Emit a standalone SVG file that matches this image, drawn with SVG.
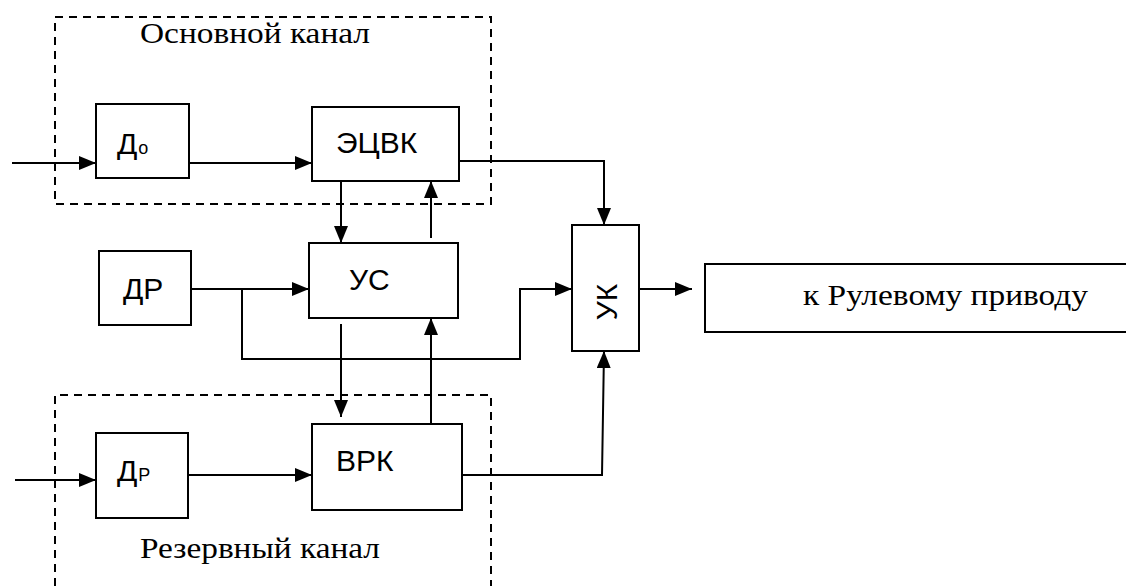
<svg xmlns="http://www.w3.org/2000/svg" width="1126" height="586" viewBox="0 0 1126 586">
<defs>
<marker id="arr" viewBox="0 0 17 14" refX="17" refY="7" markerWidth="17" markerHeight="14" markerUnits="userSpaceOnUse" orient="auto">
<path d="M0,0 L17,7 L0,14 Z" fill="#000"/>
</marker>
</defs>
<style>
.box{fill:#fff;stroke:#000;stroke-width:2}
.dash{fill:none;stroke:#000;stroke-width:2;stroke-dasharray:8 6}
.ln{fill:none;stroke:#000;stroke-width:2}
.a{marker-end:url(#arr)}
.sans{font-family:"Liberation Sans","Open Sans",sans-serif;font-size:30px;fill:#000}
.sub{font-size:18px}
.serif{font-family:"Liberation Serif","Times New Roman",serif;font-size:30px;fill:#000}
</style>
<rect width="1126" height="586" fill="#fff"/>
<g id="main-channel">
<rect class="dash" x="55" y="17" width="436" height="187"/>
<text class="serif" x="140" y="43" textLength="230" lengthAdjust="spacingAndGlyphs">Основной канал</text>
</g>
<g id="reserve-channel">
<path class="dash" d="M55,600 L55,395 L491,395 L491,600"/>
<text class="serif" x="140" y="558" textLength="240" lengthAdjust="spacingAndGlyphs">Резервный канал</text>
</g>
<g id="connectors">
<line class="ln a" x1="12" y1="163" x2="96" y2="163"/>
<line class="ln a" x1="189" y1="163" x2="312" y2="163"/>
<line class="ln a" x1="341" y1="181" x2="341" y2="243"/>
<line class="ln a" x1="431" y1="238" x2="431" y2="181"/>
<polyline class="ln a" points="459,161 604,161 604,225"/>
<line class="ln a" x1="191" y1="289" x2="309" y2="289"/>
<polyline class="ln a" points="242,289 242,359 520,359 520,289 572,289"/>
<line class="ln a" x1="341" y1="324" x2="341" y2="417"/>
<line class="ln a" x1="431" y1="424" x2="431" y2="318"/>
<line class="ln a" x1="15" y1="480" x2="96" y2="480"/>
<line class="ln a" x1="186" y1="475" x2="312" y2="475"/>
<polyline class="ln a" points="459,475 602,475 604,351"/>
<line class="ln a" x1="639" y1="289" x2="692" y2="289"/>
</g>
<g id="Do">
<rect class="box" x="96" y="104" width="93" height="74"/>
<text class="sans" x="117" y="154">Д<tspan class="sub" dx="1">о</tspan></text>
</g>
<g id="EZVK">
<rect class="box" x="312" y="107" width="147" height="74"/>
<text class="sans" x="336" y="153">ЭЦВК</text>
</g>
<g id="DR">
<rect class="box" x="99" y="251" width="92" height="74"/>
<text class="sans" x="123" y="299">ДР</text>
</g>
<g id="US">
<rect class="box" x="309" y="243" width="149" height="75"/>
<text class="sans" x="349" y="290">УС</text>
</g>
<g id="Dr">
<rect class="box" x="96" y="433" width="92" height="85"/>
<text class="sans" x="117" y="481">Д<tspan class="sub" dx="1">Р</tspan></text>
</g>
<g id="VRK">
<rect class="box" x="312" y="424" width="150" height="86"/>
<text class="sans" x="336" y="471">ВРК</text>
</g>
<g id="UK">
<rect class="box" x="572" y="225" width="67" height="126"/>
<text class="sans" transform="translate(617,302) rotate(-90)" text-anchor="middle">УК</text>
</g>
<g id="rudder">
<rect class="box" x="705" y="264" width="430" height="68"/>
<text class="serif" x="803" y="305" textLength="285" lengthAdjust="spacingAndGlyphs">к Рулевому приводу</text>
</g>
</svg>
